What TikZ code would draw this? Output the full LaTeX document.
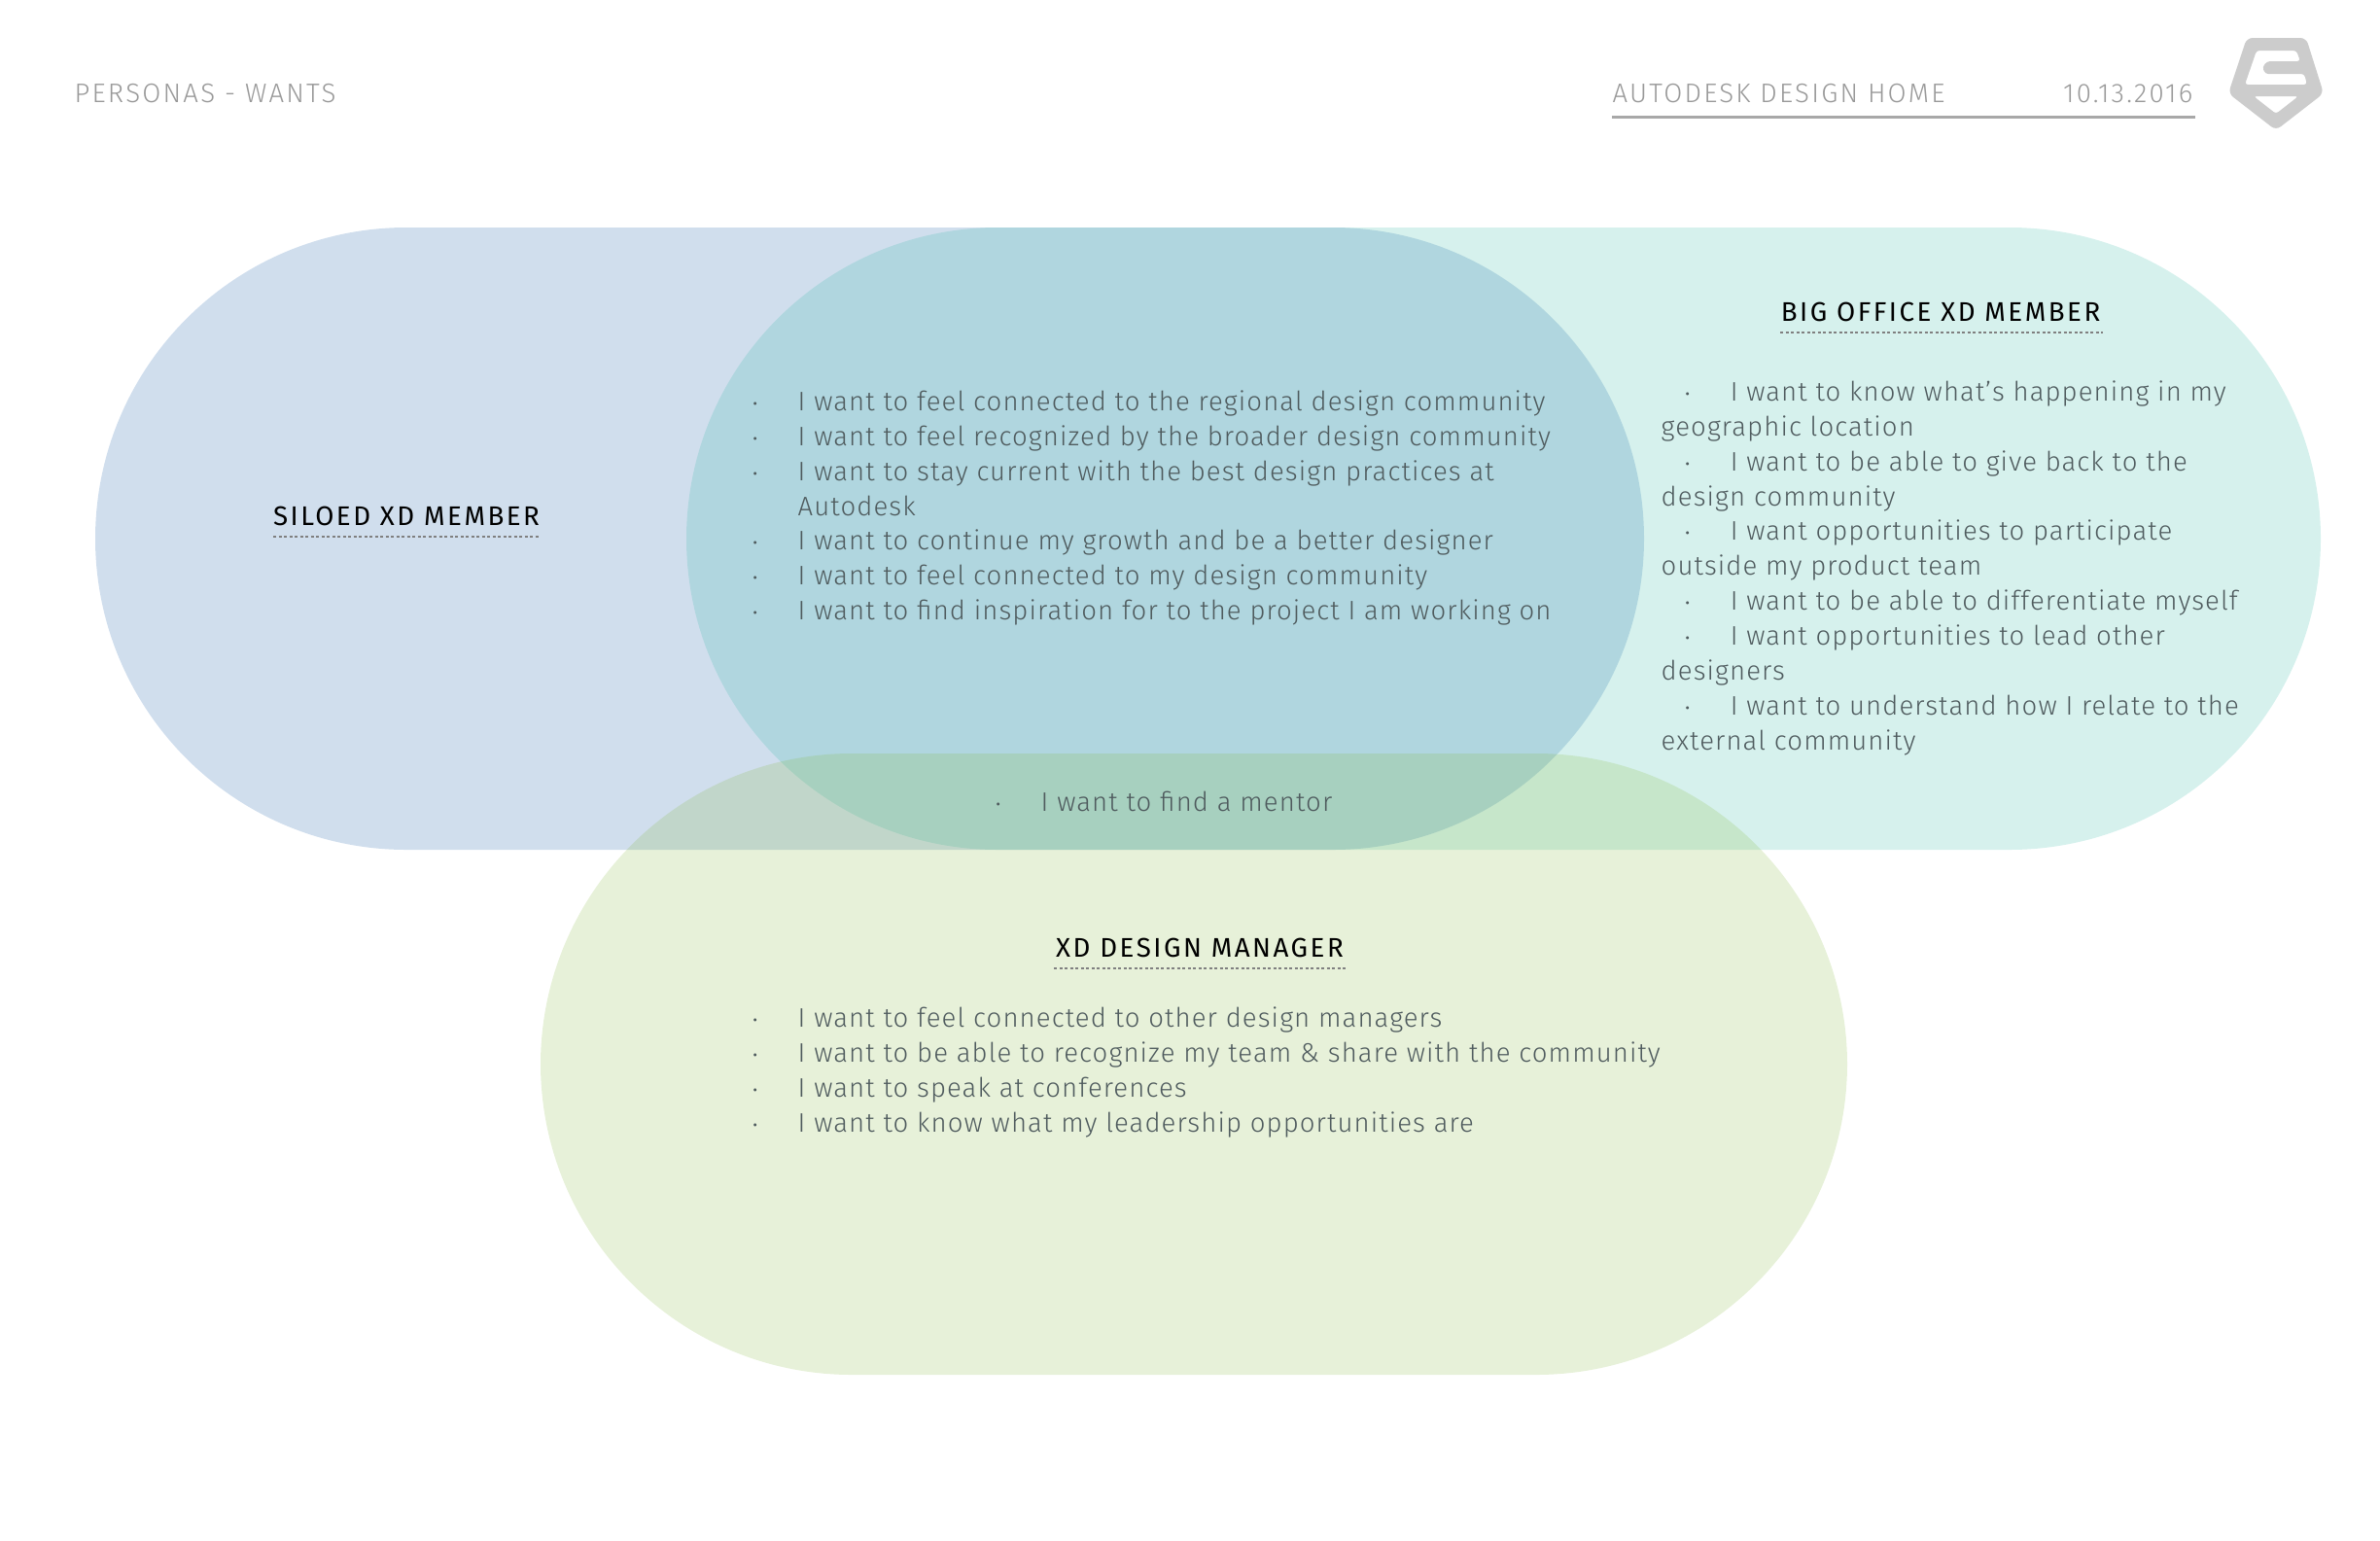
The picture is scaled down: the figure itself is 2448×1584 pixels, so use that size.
\documentclass[tikz,border=0pt]{standalone}
\usepackage{fontspec}
\usepackage{xcolor}
\usepackage{tikz}
\usetikzlibrary{positioning,calc}
\setmainfont{Fira Sans Light}[LetterSpace=4]
\newfontfamily\titlefont{Fira Sans}[LetterSpace=9]
\newfontfamily\headfont{Fira Sans Light}[LetterSpace=8]
\definecolor{siloedblue}{HTML}{145AA5}
\definecolor{bigofficeteal}{HTML}{32B9A5}
\definecolor{managergreen}{HTML}{87B941}
\definecolor{logogray}{HTML}{CCCCCC}
\definecolor{headgray}{HTML}{999999}
\definecolor{rulegray}{HTML}{A8A8A8}
\definecolor{wantgray}{HTML}{4F5B5E}
\newcommand{\wantdot}{\makebox[0.48cm][l]{$\cdot$}}
\tikzset{
  persona/.style={rounded corners=3.2cm,fill opacity=0.2},
  headtext/.style={anchor=base west,inner sep=0pt,text=headgray,font=\headfont\fontsize{7.85}{10.2}\selectfont},
  persontitle/.style={anchor=base,inner sep=0pt,font=\titlefont\fontsize{7.88}{10.2}\selectfont},
  titleline/.style={gray,line width=0.2mm,dash pattern=on 0.3mm off 0.25mm},
  wantlist/.style={anchor=north west,inner sep=0pt,align=left,text=wantgray,font=\fontsize{7.83}{10.2}\selectfont}
}
\begin{document}
\begin{tikzpicture}[x=0.01cm,y=-0.01cm]
  \useasboundingbox (0,0) rectangle (2448,1584);

  % Personas
  \fill[persona,siloedblue] (98,234) rectangle (1691,874);
  \fill[persona,bigofficeteal] (706,234) rectangle (2387,874);
  \fill[persona,managergreen] (556,775) rectangle (1900,1414);

  % Header
  \node[headtext] (page) at (76,105) {PERSONAS - WANTS};
  \node[headtext] (project) at (1658,105) {AUTODESK DESIGN HOME};
  \node[headtext,anchor=base east] (date) at (2256,105) {10.13.2016};
  \draw[rulegray,line width=0.3mm] (1658,120) -- (2258,120);

  % Logo
  \fill[logogray,rounded corners=0.06cm,even odd rule]
    (2311,39) -- (2372,39) -- (2390,96) -- (2341,134) -- (2292,96) -- cycle
    [rounded corners=0.03cm]
    (2321,52) -- (2362,52) -- (2366,63) -- (2332,63) -- (2327,69) -- (2330,76)
    -- (2370,76) -- (2373,87) -- (2309,87) -- cycle
    (2318,99) -- (2364,99) -- (2341,117) -- cycle;

  % Titles
  \node[persontitle] (siloed) at (418,540) {SILOED XD MEMBER};
  \node[persontitle] (bigoffice) at (1996,330) {BIG OFFICE XD MEMBER};
  \node[persontitle] (manager) at (1234,984) {XD DESIGN MANAGER};
  \draw[titleline] (281,552) -- (556,552);
  \draw[titleline] (1831,342) -- (2163,342);
  \draw[titleline] (1084,996) -- (1385,996);

  % Shared wants
  \node[wantlist] (shared) at (772,401) {\wantdot I want to feel connected to the regional design community\\
    \wantdot I want to feel recognized by the broader design community\\
    \wantdot I want to stay current with the best design practices at\\
    \hspace*{0.48cm}Autodesk\\
    \wantdot I want to continue my growth and be a better designer\\
    \wantdot I want to feel connected to my design community\\
    \wantdot I want to find inspiration for to the project I am working on};
  \node[wantlist] (mentor) at (1022,813) {\wantdot I want to find a mentor};

  % Big office wants
  \node[wantlist] (office) at (1708,391) {\hspace*{0.23cm}\wantdot I want to know what's happening in my\\
    geographic location\\
    \hspace*{0.23cm}\wantdot I want to be able to give back to the\\
    design community\\
    \hspace*{0.23cm}\wantdot I want opportunities to participate\\
    outside my product team\\
    \hspace*{0.23cm}\wantdot I want to be able to differentiate myself\\
    \hspace*{0.23cm}\wantdot I want opportunities to lead other\\
    designers\\
    \hspace*{0.23cm}\wantdot I want to understand how I relate to the\\
    external community};

  % Manager wants
  \node[wantlist] (leads) at (772,1035) {\wantdot I want to feel connected to other design managers\\
    \wantdot I want to be able to recognize my team \& share with the community\\
    \wantdot I want to speak at conferences\\
    \wantdot I want to know what my leadership opportunities are};
\end{tikzpicture}
\end{document}
